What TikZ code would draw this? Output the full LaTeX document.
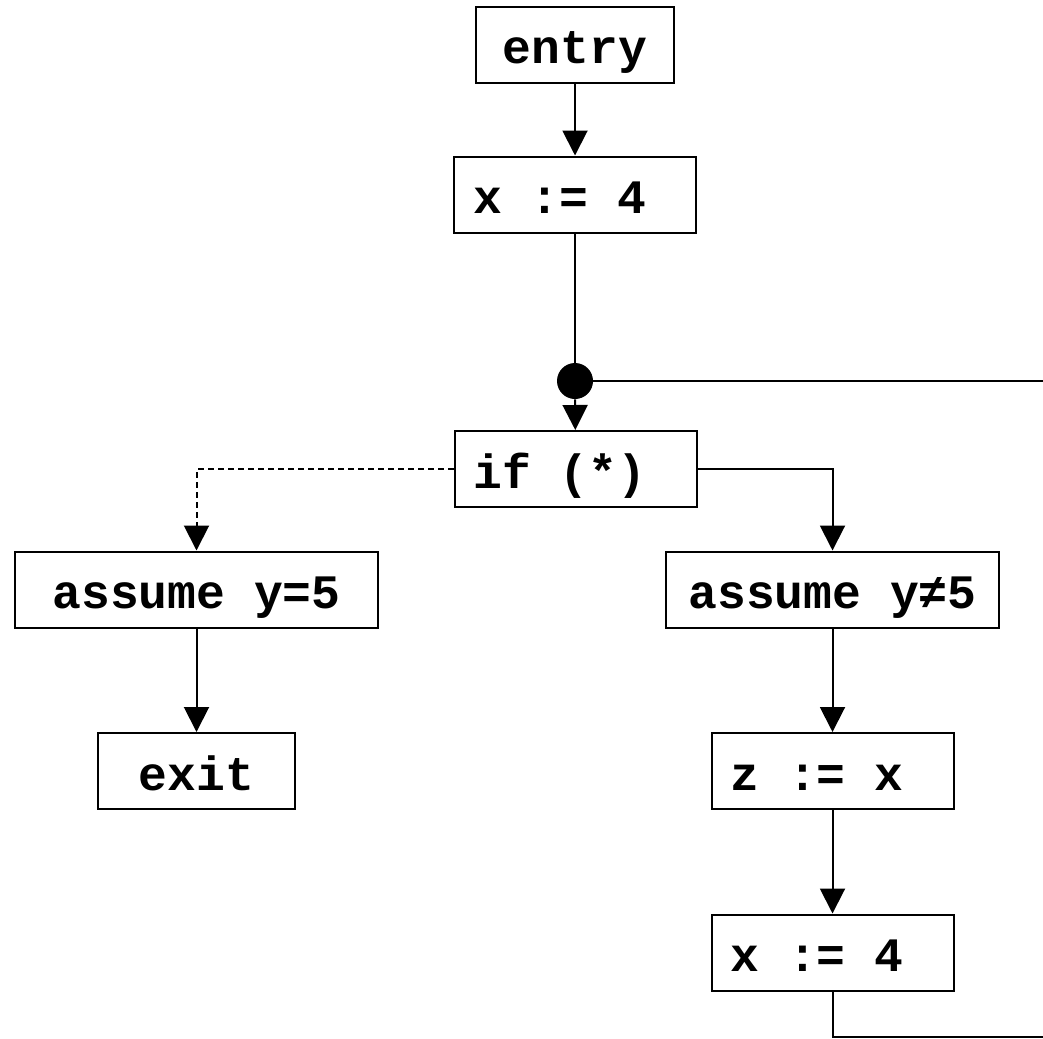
\documentclass[tikz,border=0pt]{standalone}
\usepackage{fontspec}
\setmonofont{Liberation Mono}
\usetikzlibrary{arrows.meta}

% one full character cell of the monospaced face
\newcommand{\tsp}{\hspace*{0.6em}}

\begin{document}
\begin{tikzpicture}[x=0.5pt, y=-0.5pt,
  every node/.style={font=\ttfamily\bfseries\fontsize{24}{28}\selectfont},
  stmt/.style={draw, line width=1pt, minimum height=38pt, inner ysep=0pt,
    inner xsep=9.5pt, text height=20.5pt, text depth=1.5pt},
  lstmt/.style={stmt, align=left, text width=#1},
  cstmt/.style={stmt, align=center, text width=#1},
  flow/.style={line width=1pt},
  arr/.style={flow, -{Triangle[length=12.5pt,width=12.5pt]}},
  joint/.style={circle, fill=black, draw=none, minimum size=18pt, inner sep=0pt}
]
  \useasboundingbox (0,0) rectangle (1043,1038);

  % statements of the control-flow graph
  \node[cstmt=80pt]   (entry) at (575,45)      {entry};
  \node[lstmt=102pt]  (x1)    at (575,194.5)   {x\tsp:=\tsp4};
  \node[joint]        (dot)   at (575,381)     {};
  \node[lstmt=102pt]  (if)    at (575.5,469)   {if\tsp(*)};
  \node[cstmt=162.5pt](aeq)   at (196.5,589.5) {assume\tsp y=5};
  \node[cstmt=147.5pt](aneq)  at (832.5,589.5) {assume\tsp y≠5};
  \node[cstmt=79.5pt] (exit)  at (196.5,771)   {exit};
  \node[lstmt=102pt]  (z)     at (832.5,771)   {z\tsp:=\tsp x};
  \node[lstmt=102pt]  (x2)    at (832.5,952.5) {x\tsp:=\tsp4};

  % loop back-edge ends
  \coordinate (loopin)  at (1043,381);
  \coordinate (loopout) at (1043,1037);

  % edges
  \draw[arr] (entry) -- (x1);
  \draw[flow] (x1) -- (dot);
  \draw[arr] (dot) -- (if);
  \draw[flow] (dot) -- (loopin);
  \draw[arr] (if.east) -| (aneq.north);
  \draw[arr, dash pattern=on 3pt off 2pt] (if.west) -| (aeq.north);
  \draw[arr] (aeq) -- (exit);
  \draw[arr] (aneq) -- (z);
  \draw[arr] (z) -- (x2);
  \draw[flow] (x2.south) |- (loopout);
\end{tikzpicture}
\end{document}
